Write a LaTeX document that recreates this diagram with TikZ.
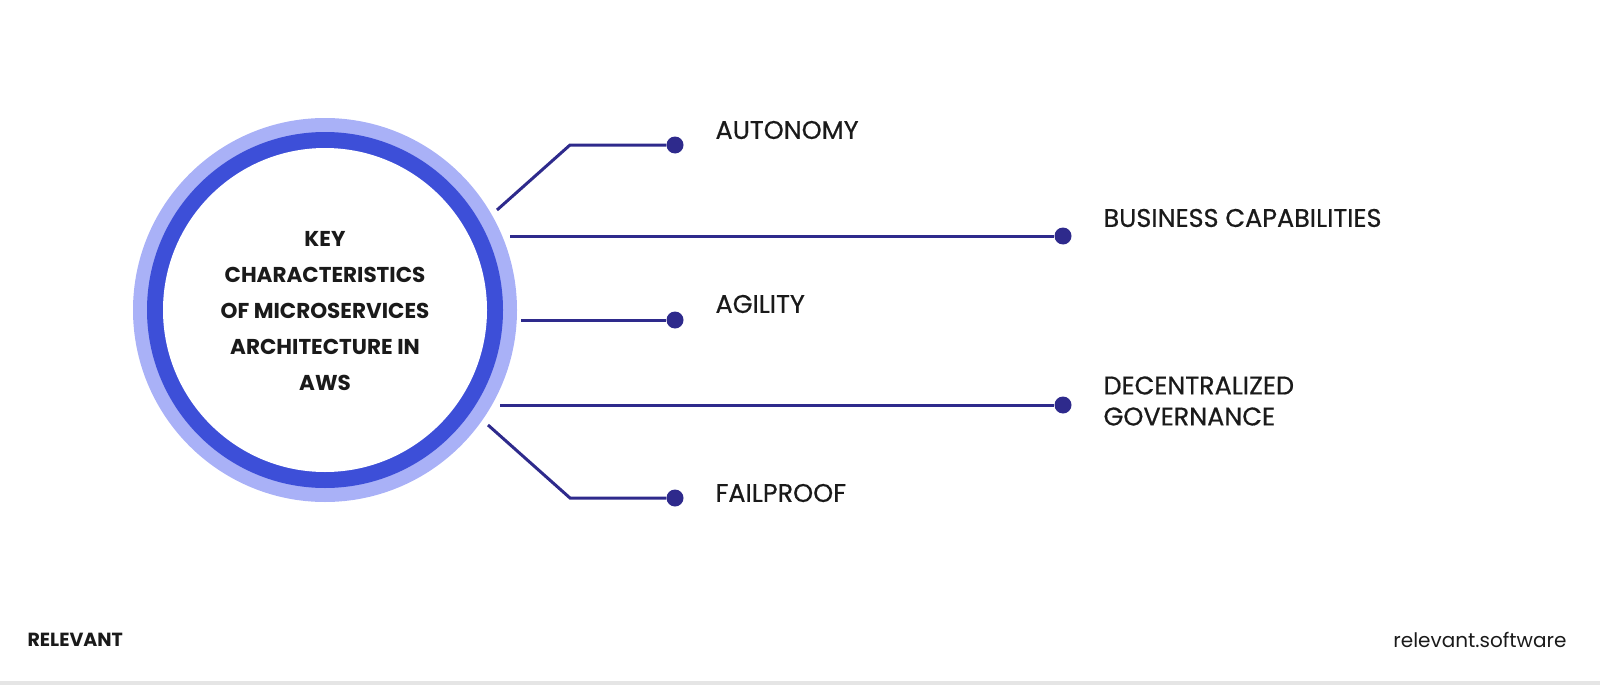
\documentclass[tikz,border=0pt]{standalone}
\usepackage{fontspec}
\setmainfont{Poppins}
\newfontfamily\medfont{Poppins}[FakeBold=0.6]
\definecolor{navy}{HTML}{2E2A8C}
\definecolor{ringdark}{HTML}{3D4FD8}
\definecolor{ringlight}{HTML}{A9B1F7}
\definecolor{txt}{HTML}{1A1A1A}
\tikzset{
  conn/.style={navy,line width=3pt},
  dotn/.style={circle,fill=navy,inner sep=0pt,minimum size=17pt},
  lab/.style={anchor=west,text=txt,font=\medfont\fontsize{25.5}{31}\selectfont,align=left}
}
\begin{document}
\begin{tikzpicture}[x=1pt,y=-1pt]
\useasboundingbox (0,0) rectangle (1600,685);
\fill[gray!20] (0,681) rectangle (1600,685);
\fill[ringlight] (325,310) circle (192);
\fill[ringdark] (325,310) circle (178);
\node[circle,fill=white,minimum size=324pt,inner sep=0pt] (c) at (325,310) {};
\node[text=txt,align=center,font=\fontsize{21.5}{36}\selectfont\bfseries] at (325,311) {KEY\\CHARACTERISTICS\\OF MICROSERVICES\\ARCHITECTURE IN\\AWS};
\node[dotn] (d1) at (675,145) {};
\node[dotn] (d2) at (1063,236) {};
\node[dotn] (d3) at (675,320) {};
\node[dotn] (d4) at (1063,405) {};
\node[dotn] (d5) at (675,498) {};
\coordinate (s1) at (497,210); \coordinate (k1) at (570,145);
\coordinate (s2) at (510,236);
\coordinate (s3) at (521,320);
\coordinate (s4) at (500,405);
\coordinate (s5) at (488,425); \coordinate (k5) at (570,498);
\draw[conn] (s1) -- (k1) -- (d1);
\draw[conn] (s2) -- (d2);
\draw[conn] (s3) -- (d3);
\draw[conn] (s4) -- (d4);
\draw[conn] (s5) -- (k5) -- (d5);
\node[lab] (l1) at (712,130) {AUTONOMY};
\node[lab] (l2) at (1100,218) {BUSINESS CAPABILITIES};
\node[lab] (l3) at (712,304) {AGILITY};
\node[lab,align=left] (l4) at (1100,401) {DECENTRALIZED\\GOVERNANCE};
\node[lab] (l5) at (712,493) {FAILPROOF};
\node[anchor=west,text=txt,font=\fontsize{19}{22}\selectfont\bfseries] (r) at (24,640) {RELEVANT};
\node[anchor=east,text=txt,font=\fontsize{20}{22}\selectfont] (rs) at (1570,640) {relevant.software};
\end{tikzpicture}
\end{document}
